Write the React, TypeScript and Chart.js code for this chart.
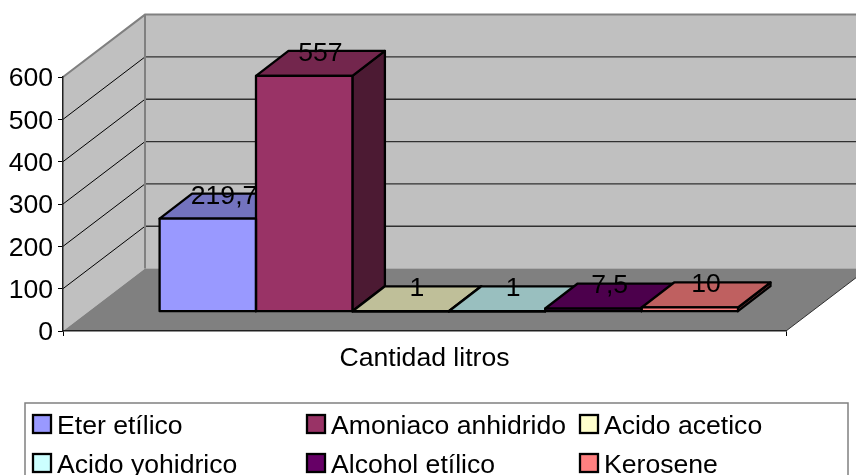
import React, { useEffect, useRef } from "react";
import { Chart, registerables } from "chart.js";

Chart.register(...registerables);

const categories = ["Cantidad litros"];
const seriesNames = ["Eter etílico", "Amoniaco anhidrido", "Acido acetico", "Acido yohidrico", "Alcohol etílico", "Kerosene"];
const seriesValues = [219.7, 557, 1, 1, 7.5, 10];
const valueLabels = ["219,7", "557", "1", "1", "7,5", "10"];
const seriesColors = ["#9999FF", "#993366", "#FFFFCC", "#CCFFFF", "#660066", "#FF8080"];
const topColors = ["#7373BF", "#73264D", "#BFBF99", "#99BFBF", "#4C004C", "#BF6060"];
const sideColors = ["#4C4C80", "#4C1A33", "#808066", "#668080", "#330033", "#804040"];

const FONT = '"Liberation Sans", Arial, sans-serif';
const FONT_SIZE = 26.6;
const WALL_DX = 82;
const WALL_DY = -62.4;
const SHIFT_X = 24.3;
const SHIFT_Y = -19.3;
const BAR_DX = 32.5;
const BAR_DY = -25;
const BAR_LINE = 2.3;

function poly(ctx: CanvasRenderingContext2D, pts: number[][]) {
  ctx.beginPath();
  pts.forEach((p, i) => (i ? ctx.lineTo(p[0], p[1]) : ctx.moveTo(p[0], p[1])));
  ctx.closePath();
}

const scene = {
  id: "scene3d",
  beforeDraw(chart: any) {
    const ctx: CanvasRenderingContext2D = chart.ctx;
    const { left, right, top, bottom } = chart.chartArea;
    const yS = chart.scales.y;
    ctx.save();
    ctx.fillStyle = "#fff";
    ctx.fillRect(0, 0, chart.width, chart.height);
    const dx = WALL_DX, dy = WALL_DY;
    // back wall
    ctx.fillStyle = "#C0C0C0";
    ctx.fillRect(left + dx, top + dy, right - left, bottom - top);
    // side wall
    poly(ctx, [[left, top], [left + dx, top + dy], [left + dx, bottom + dy], [left, bottom]]);
    ctx.fill();
    // floor
    ctx.fillStyle = "#808080";
    poly(ctx, [[left, bottom], [left + dx, bottom + dy], [right + dx, bottom + dy], [right, bottom]]);
    ctx.fill();
    // gridlines
    yS.ticks.forEach((t: any) => {
      if (t.value === 0 || t.value === yS.max) return;
      const y = yS.getPixelForValue(t.value);
      ctx.strokeStyle = "#000";
      ctx.lineWidth = 1;
      ctx.beginPath();
      ctx.moveTo(left, y);
      ctx.lineTo(left + dx, y + dy);
      ctx.stroke();
      ctx.strokeStyle = "#303030";
      ctx.lineWidth = 1.3;
      ctx.beginPath();
      ctx.moveTo(left + dx, y + dy);
      ctx.lineTo(right + dx, y + dy);
      ctx.stroke();
    });
    // wall edges
    ctx.strokeStyle = "#808080";
    ctx.lineWidth = 2;
    ctx.beginPath();
    ctx.moveTo(left, top);
    ctx.lineTo(left + dx, top + dy);
    ctx.lineTo(right + dx, top + dy);
    ctx.moveTo(left + dx, top + dy);
    ctx.lineTo(left + dx, bottom + dy);
    ctx.stroke();
    ctx.strokeStyle = "#303030";
    ctx.lineWidth = 1;
    ctx.beginPath();
    ctx.moveTo(right, bottom);
    ctx.lineTo(right + dx, bottom + dy);
    ctx.stroke();
    ctx.restore();
  },
  beforeDatasetsDraw(chart: any) {
    const ctx: CanvasRenderingContext2D = chart.ctx;
    ctx.save();
    ctx.translate(SHIFT_X, SHIFT_Y);
    ctx.lineWidth = BAR_LINE;
    ctx.strokeStyle = "#000";
    ctx.lineJoin = "round";
    seriesValues.forEach((_, i) => {
      const el = chart.getDatasetMeta(i).data[0];
      const x0 = el.x - el.width / 2, x1 = el.x + el.width / 2;
      const yT = el.y, yB = el.base;
      ctx.fillStyle = sideColors[i];
      poly(ctx, [[x1, yT], [x1 + BAR_DX, yT + BAR_DY], [x1 + BAR_DX, yB + BAR_DY], [x1, yB]]);
      ctx.fill();
      ctx.stroke();
      ctx.fillStyle = topColors[i];
      poly(ctx, [[x0, yT], [x0 + BAR_DX, yT + BAR_DY], [x1 + BAR_DX, yT + BAR_DY], [x1, yT]]);
      ctx.fill();
      ctx.stroke();
    });
  },
  afterDatasetsDraw(chart: any) {
    const ctx: CanvasRenderingContext2D = chart.ctx;
    ctx.lineWidth = BAR_LINE;
    ctx.strokeStyle = "#000";
    seriesValues.forEach((_, i) => {
      const el = chart.getDatasetMeta(i).data[0];
      ctx.strokeRect(el.x - el.width / 2, el.y, el.width, el.base - el.y);
    });
    ctx.restore();
    // value labels
    ctx.save();
    ctx.fillStyle = "#000";
    ctx.font = `${FONT_SIZE}px ${FONT}`;
    ctx.textAlign = "center";
    ctx.textBaseline = "middle";
    seriesValues.forEach((_, i) => {
      const el = chart.getDatasetMeta(i).data[0];
      ctx.fillText(valueLabels[i], el.x + SHIFT_X + BAR_DX / 2, el.y + SHIFT_Y + BAR_DY + 2.5);
    });
    // legend
    ctx.fillStyle = "#fff";
    ctx.strokeStyle = "#808080";
    ctx.lineWidth = 1.5;
    ctx.fillRect(25, 403, 823, 80);
    ctx.strokeRect(25, 403, 823, 80);
    const colX = [33, 307, 580];
    const rowY = [415, 454];
    ctx.textAlign = "left";
    ctx.textBaseline = "alphabetic";
    seriesNames.forEach((name, i) => {
      const x = colX[i % 3], y = rowY[Math.floor(i / 3)];
      ctx.fillStyle = seriesColors[i];
      ctx.fillRect(x, y, 18, 18);
      ctx.strokeStyle = "#000";
      ctx.lineWidth = BAR_LINE;
      ctx.strokeRect(x, y, 18, 18);
      ctx.fillStyle = "#000";
      ctx.fillText(name, x + 24, y + 18.5);
    });
    ctx.restore();
  },
};

export default function App() {
  const ref = useRef<HTMLCanvasElement>(null);
  useEffect(() => {
    const chart = new Chart(ref.current!, {
      type: "bar",
      data: {
        labels: categories,
        datasets: seriesNames.map((name, i) => ({
          label: name,
          data: [seriesValues[i]],
          backgroundColor: seriesColors[i],
          borderWidth: 0,
          clip: false as any,
          categoryPercentage: 0.8,
          barPercentage: 1,
        })),
      },
      options: {
        responsive: false,
        animation: false,
        layout: { padding: { left: 0, top: 77, right: 70, bottom: 94 } },
        plugins: { legend: { display: false }, tooltip: { enabled: false } },
        scales: {
          x: {
            afterFit: (s: any) => { s.height = 50; },
            grid: { drawOnChartArea: false, tickLength: 5, tickColor: "#000" },
            border: { color: "#202020", width: 1.5 },
            ticks: { color: "#000", font: { family: FONT, size: FONT_SIZE }, padding: 7, maxRotation: 0 },
          },
          y: {
            min: 0,
            max: 600,
            afterFit: (s: any) => { s.width = 63; },
            grid: { drawOnChartArea: false, tickLength: 5, tickColor: "#000" },
            border: { color: "#202020", width: 1.5 },
            ticks: { color: "#000", stepSize: 100, font: { family: FONT, size: FONT_SIZE }, padding: 5, labelOffset: 2 },
          },
        },
      },
      plugins: [scene],
    } as any);
    return () => chart.destroy();
  }, []);
  return (
    <div style={{ position: "fixed", left: 0, top: 0, width: 856, height: 475, overflow: "hidden" }}>
      <canvas ref={ref} width={856} height={475} style={{ display: "block" }} />
    </div>
  );
}
